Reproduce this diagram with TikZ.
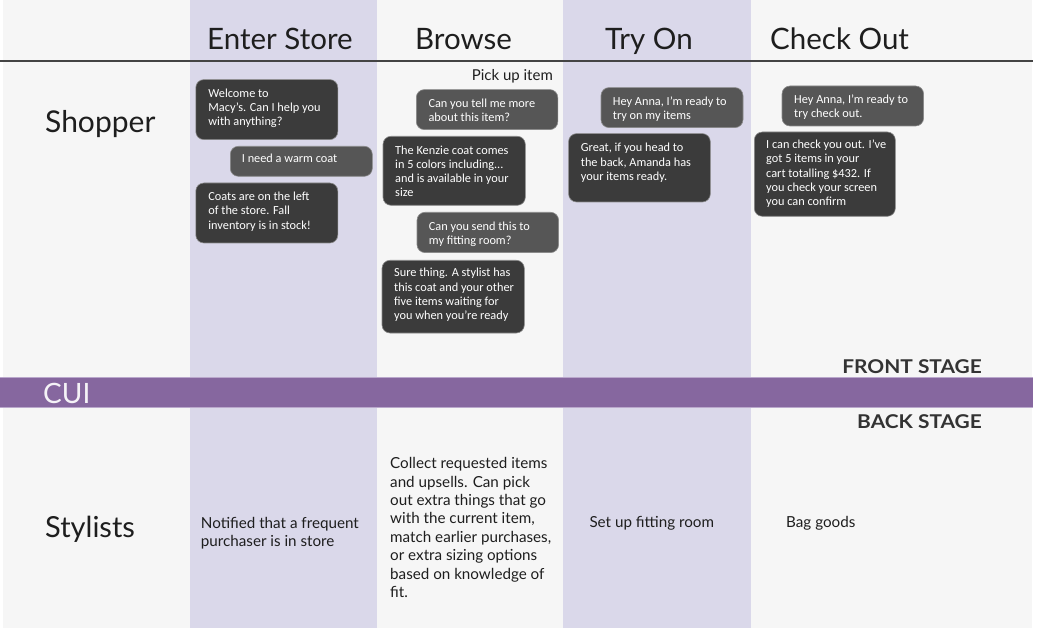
\documentclass[tikz,border=0pt]{standalone}
\usepackage{fontspec}
\setmainfont{Lato}
\newfontfamily\bubblefont{Carlito}
\newfontfamily\stagefont[FakeStretch=1.1]{Lato}
\definecolor{bg}{HTML}{F6F6F6}
\definecolor{lav}{HTML}{DAD8EA}
\definecolor{band}{HTML}{86679F}
\definecolor{bandedge}{HTML}{BAA8CC}
\definecolor{bdark}{HTML}{3B3B3B}
\definecolor{blight}{HTML}{565656}
\definecolor{bedge}{HTML}{8A8A8A}
\definecolor{rule}{HTML}{444444}
\definecolor{ink}{HTML}{1E1E1E}
\definecolor{stageink}{HTML}{333333}
\begin{document}
\begin{tikzpicture}[x=1pt,y=-1pt,
  bubble/.style={rounded corners=8pt, draw=bedge, line width=0.6pt, anchor=north west, inner sep=0pt},
  bdk/.style={bubble, fill=bdark},
  blt/.style={bubble, fill=blight},
  btext/.style={anchor=north west, inner sep=0pt, align=left, text=white,
    font=\bubblefont\fontsize{12.3}{14.2}\selectfont},
  header/.style={anchor=base west, inner sep=0pt, text=ink, font=\fontsize{29.5}{32}\selectfont},
  rowlabel/.style={anchor=base west, inner sep=0pt, text=ink, font=\fontsize{30}{32}\selectfont},
  stext/.style={anchor=north west, inner sep=0pt, align=left, text=ink, font=\fontsize{15.2}{18.4}\selectfont},
  stage/.style={anchor=base east, inner sep=0pt, text=stageink, font=\stagefont\bfseries\fontsize{19}{20}\selectfont}
]
\useasboundingbox (0,0) rectangle (1038,628);
\fill[white] (0,0) rectangle (1038,628);
\fill[bg] (3,0) rectangle (1032,628);
\fill[lav] (190,0) rectangle (377,628);
\fill[lav] (563,0) rectangle (751,628);
% header rule
\draw[rule, line width=2pt] (0,61) -- (1033,61);
% CUI band
\fill[band] (0,377) rectangle (1033,407);
\draw[bandedge, line width=1pt] (0,377) -- (1033,377);
\draw[bandedge, line width=1pt] (0,407) -- (1033,407);
\node[anchor=base west, inner sep=0pt, text=white!92!band, font=\fontsize{28}{30}\selectfont] (cui) at (43,403) {CUI};

% headers
\node[header] (h1) at (207,49.5) {Enter Store};
\node[header] (h2) at (415,49.5) {Browse};
\node[header] (h3) at (605,49.5) {Try On};
\node[header] (h4) at (770,49.5) {Check Out};

% row labels
\node[rowlabel] (shopper) at (45,132.7) {Shopper};
\node[rowlabel, font=\fontsize{29}{32}\selectfont] (stylists) at (45,537) {Stylists};

% stage labels
\node[stage] (front) at (982,373.5) {FRONT STAGE};
\node[stage] (back) at (982,428.5) {BACK STAGE};

% Enter Store bubbles
\node[bdk, minimum width=142pt, minimum height=60pt] (b1) at (195.5,79.3) {};
\node[btext] (b1t) at ([xshift=12.7pt,yshift=-9.3pt]b1.north west) {Welcome to\\Macy’s. Can I help you\\with anything?};
\node[blt, minimum width=142pt, minimum height=30pt] (b2) at (230,146) {};
\node[btext] (b2t) at ([xshift=11.7pt,yshift=-7.8pt]b2.north west) {I need a warm coat};
\node[bdk, minimum width=142pt, minimum height=60pt] (b3) at (195.5,182.7) {};
\node[btext] (b3t) at ([xshift=12.7pt,yshift=-9.3pt]b3.north west) {Coats are on the left\\of the store. Fall\\inventory is in stock!};

% Browse
\node[anchor=base east, inner sep=0pt, text=ink, font=\fontsize{15}{17}\selectfont] (pick) at (553,80.7) {Pick up item};
\node[blt, minimum width=141.5pt, minimum height=40pt] (b4) at (416,89.3) {};
\node[btext] (b4t) at ([xshift=12.3pt,yshift=-9pt]b4.north west) {Can you tell me more\\about this item?};
\node[bdk, minimum width=142.3pt, minimum height=69pt] (b5) at (382.7,136) {};
\node[btext] (b5t) at ([xshift=12.3pt,yshift=-9.3pt]b5.north west) {The Kenzie coat comes\\in 5 colors including...\\and is available in your\\size};
\node[blt, minimum width=141.6pt, minimum height=40.3pt] (b6) at (416.7,212) {};
\node[btext] (b6t) at ([xshift=12pt,yshift=-9.3pt]b6.north west) {Can you send this to\\my fitting room?};
\node[bdk, minimum width=142.3pt, minimum height=72.7pt] (b7) at (381.7,260) {};
\node[btext] (b7t) at ([xshift=12.3pt,yshift=-8.1pt]b7.north west) {Sure thing. A stylist has\\this coat and your other\\five items waiting for\\you when you’re ready};

% Try On
\node[blt, minimum width=142pt, minimum height=40pt] (b8) at (600.7,87.3) {};
\node[btext] (b8t) at ([xshift=12pt,yshift=-9.2pt]b8.north west) {Hey Anna, I’m ready to\\try on my items};
\node[bdk, minimum width=141.7pt, minimum height=68.4pt] (b9) at (568.3,133.3) {};
\node[btext] (b9t) at ([xshift=12.4pt,yshift=-9.8pt]b9.north west) {Great, if you head to\\the back, Amanda has\\your items ready.};

% Check Out
\node[blt, minimum width=141.6pt, minimum height=40pt] (b10) at (781.7,85.7) {};
\node[btext] (b10t) at ([xshift=12.3pt,yshift=-9.1pt]b10.north west) {Hey Anna, I’m ready to\\try check out.};
\node[bdk, minimum width=141pt, minimum height=84.3pt] (b11) at (754,131.7) {};
\node[btext] (b11t) at ([xshift=12pt,yshift=-8.1pt]b11.north west) {I can check you out. I’ve\\got 5 items in your\\cart totalling \$432. If\\you check your screen\\you can confirm};

% Stylists row
\node[stext] (s1) at (200.7,517) {Notified that a frequent\\purchaser is in store};
\node[stext] (s2) at (390,457.3) {Collect requested items\\and upsells. Can pick\\out extra things that go\\with the current item,\\match earlier purchases,\\or extra sizing options\\based on knowledge of\\fit.};
\node[stext] (s3) at (589.3,516) {Set up fitting room};
\node[stext] (s4) at (786,516) {Bag goods};
\end{tikzpicture}
\end{document}
